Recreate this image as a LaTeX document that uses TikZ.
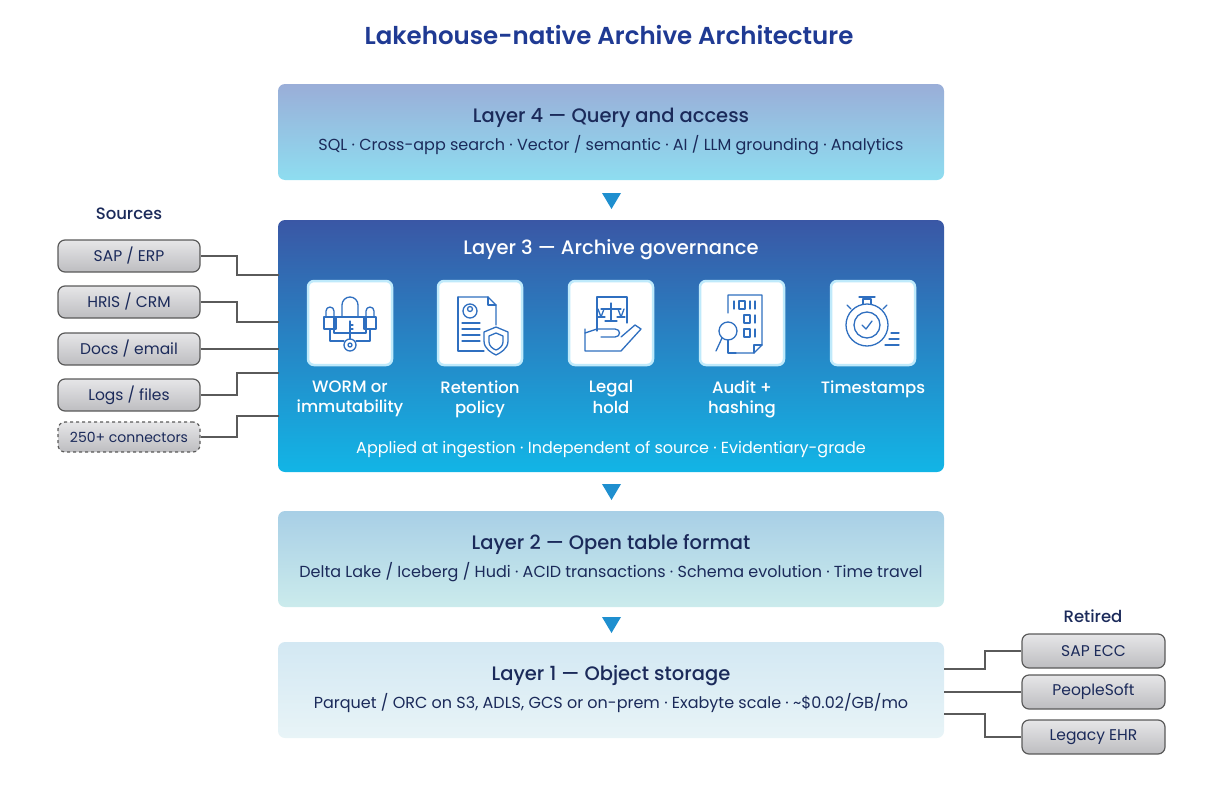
\documentclass[tikz,border=0pt]{standalone}
\usepackage{fontspec}
\setmainfont{Poppins}
\newfontfamily\semib{Poppins SemiBold}
\newfontfamily\med{Poppins Medium}
\definecolor{navy}{HTML}{1B2A5A}
\definecolor{ttl}{HTML}{1F3A93}
\definecolor{tri}{HTML}{1F8FCF}
\definecolor{icb}{HTML}{2F6FC0}
\definecolor{wire}{HTML}{5A5A5A}
\definecolor{lfA}{HTML}{9AAED8}\definecolor{lfB}{HTML}{8EDDF0}
\definecolor{ltA}{HTML}{3A57A5}\definecolor{ltB}{HTML}{12B5E6}
\definecolor{ltwA}{HTML}{A8CFE6}\definecolor{ltwB}{HTML}{CBEBEC}
\definecolor{lonA}{HTML}{D3E8F3}\definecolor{lonB}{HTML}{E8F4F7}
\definecolor{srcA}{HTML}{E6E6E8}\definecolor{srcB}{HTML}{BDBDC0}
\tikzset{
  ltitle/.style={font=\med\fontsize{19.5}{22}\selectfont,text=navy},
  lsub/.style={font=\fontsize{16}{19}\selectfont,text=navy},
  srcbox/.style={draw=wire,line width=1.2pt,rounded corners=7pt,top color=srcA,bottom color=srcB,minimum width=142pt,minimum height=32pt,font=\fontsize{15.5}{18}\selectfont,text=navy},
  iconbox/.style={fill=white,draw=cyan!25,line width=2.5pt,rounded corners=6pt,minimum width=84pt,minimum height=84pt},
  icl/.style={font=\med\fontsize{16.5}{20.5}\selectfont,text=white,align=center,anchor=north},
  wireln/.style={draw=wire,line width=1.2pt},
  ic/.style={draw=icb,line width=1.3pt,line cap=round,line join=round},
  hdr/.style={font=\med\fontsize{16.5}{19}\selectfont,text=navy}
}
\begin{document}
\begin{tikzpicture}[x=1pt,y=-1pt]
\useasboundingbox (0,0) rectangle (1218,792);
\node[text=ttl,font=\semib\fontsize{24.5}{28}\selectfont] (title) at (609,35) {Lakehouse-native Archive Architecture};
% layers
\shade[rounded corners=7pt,top color=lfA,bottom color=lfB] (278,84) rectangle (944,180);
\shade[rounded corners=7pt,top color=ltA,bottom color=ltB] (278,220) rectangle (944,472);
\shade[rounded corners=7pt,top color=ltwA,bottom color=ltwB] (278,511) rectangle (944,607);
\shade[rounded corners=7pt,top color=lonA,bottom color=lonB] (278,642) rectangle (944,738);
\node[ltitle] (t4) at (611,118) {Layer 4 — Query and access};
\node[lsub] (s4) at (611,145) {SQL · Cross-app search · Vector / semantic · AI / LLM grounding · Analytics};
\node[ltitle,text=white] (t3) at (611,250) {Layer 3 — Archive governance};
\node[lsub,text=white] (s3) at (611,450) {Applied at ingestion · Independent of source · Evidentiary-grade};
\node[ltitle] (t2) at (611,545) {Layer 2 — Open table format};
\node[lsub] (s2) at (611,572) {Delta Lake / Iceberg / Hudi · ACID transactions · Schema evolution · Time travel};
\node[ltitle] (t1) at (611,676) {Layer 1 — Object storage};
\node[lsub] (s1) at (611,703) {Parquet / ORC on S3, ADLS, GCS or on-prem · Exabyte scale · \textasciitilde\$0.02/GB/mo};
% triangles
\foreach \y in {193,484,617}{\fill[tri] (602,\y) -- (621,\y) -- (611.5,\y+16) -- cycle;}
% icons
\foreach \x/\n/\l in {350/i1/{WORM or\\immutability},480/i2/{Retention\\policy},611/i3/{Legal\\hold},742/i4/{Audit +\\hashing},873/i5/{Timestamps}}{
  \node[iconbox] (\n) at (\x,323) {};
  \node[icl] at (\x,377) {\l};
}
% icon 1: locks and key
\begin{scope}[shift={(350,323)}]
\draw[ic] (-8,-6) -- (-8,-18) arc[start angle=180,end angle=360,radius=8] -- (8,-6);
\draw[ic] (-16,-6) rectangle (16,10);
\draw[ic] (-26,-6) rectangle (-14,6); \draw[ic] (-24,-6) -- (-24,-12) arc[start angle=180,end angle=360,radius=4] -- (-16,-6);
\draw[ic] (14,-6) rectangle (26,6); \draw[ic] (16,-6) -- (16,-12) arc[start angle=180,end angle=360,radius=4] -- (24,-6);
\draw[ic] (0,-2) -- (0,16); \draw[ic] (0,2) -- (3,2); \draw[ic] (0,6) -- (3,6);
\draw[ic] (0,22) circle (6); \draw[ic] (0,22) circle (2);
\draw[ic] (-20,6) -- (-20,18) -- (-6,18); \draw[ic] (20,6) -- (20,18) -- (6,18);
\end{scope}
% icon 2: document with shield
\begin{scope}[shift={(480,323)}]
\draw[ic] (-22,-26) -- (8,-26) -- (16,-18) -- (16,2); \draw[ic] (-22,-26) -- (-22,28) -- (4,28);
\draw[ic] (8,-26) -- (8,-18) -- (16,-18);
\draw[ic] (-10,-12) circle (7); \draw[ic] (-10,-14) circle (2.5);
\draw[ic] (-18,0) -- (0,0); \draw[ic] (-18,6) -- (0,6); \draw[ic] (-18,12) -- (0,12); \draw[ic] (-18,18) -- (0,18);
\draw[ic] (16,4) -- (28,9) -- (28,18) .. controls (28,26) and (20,30) .. (16,32) .. controls (12,30) and (4,26) .. (4,18) -- (4,9) -- cycle;
\draw[ic] (16,10) -- (23,13) -- (23,19) .. controls (23,23) and (19,26) .. (16,27) .. controls (13,26) and (9,23) .. (9,19) -- (9,13) -- cycle;
\end{scope}
% icon 3: legal hold
\begin{scope}[shift={(611,323)}]
\draw[ic] (-14,8) -- (-14,-26) -- (16,-26) -- (16,0);
\draw[ic] (0,-20) -- (0,-2); \draw[ic] (-10,-14) -- (10,-14); \draw[ic] (-6,-2) -- (6,-2);
\draw[ic] (-13,-14) -- (-10,-6) -- (-7,-14); \draw[ic] (7,-14) -- (10,-6) -- (13,-14); \draw[ic] (-14,-6) -- (-6,-6); \draw[ic] (6,-6) -- (14,-6);
\draw[ic] (-26,6) -- (-26,28) -- (10,28) -- (30,6) -- (24,2) -- (10,14);
\draw[ic] (-26,10) -- (-14,6) -- (4,6) .. controls (10,6) and (10,14) .. (4,14) -- (-10,14);
\end{scope}
% icon 4: audit
\begin{scope}[shift={(742,323)}]
\draw[ic] (-14,-10) -- (-14,-28) -- (20,-28) -- (20,22) -- (12,30) -- (-6,30); \draw[ic] (-14,17) -- (-14,30) -- (-6,30);
\draw[ic] (12,30) -- (12,22) -- (20,22);
\draw[ic] (-8,-22) -- (-8,-14); \draw[ic] (-3,-22) rectangle (3,-14); \draw[ic] (8,-22) -- (8,-14); \draw[ic] (13,-22) -- (13,-14);
\draw[ic] (2,-8) rectangle (8,0); \draw[ic] (13,-8) -- (13,0);
\draw[ic] (2,6) rectangle (8,14); \draw[ic] (13,6) -- (13,14);
\draw[ic] (-14,8) circle (9); \draw[ic] (-20,15) -- (-26,28);
\end{scope}
% icon 5: stopwatch
\begin{scope}[shift={(873,323)}]
\draw[ic] (-6,2) circle (21); \draw[ic] (-6,2) circle (13);
\draw[ic] (-11,2) -- (-7,6) -- (-1,-2);
\draw[ic] (-10,-19) -- (-10,-24) -- (-2,-24) -- (-2,-19); \draw[ic] (-14,-26) -- (2,-26);
\draw[ic] (-22,-14) -- (-26,-18); \draw[ic] (10,-14) -- (14,-18);
\draw[ic] (18,10) -- (26,10); \draw[ic] (16,16) -- (26,16); \draw[ic] (12,22) -- (26,22);
\end{scope}
% sources
\node[hdr] (srch) at (129,214) {Sources};
\node[srcbox] (sap) at (129,256) {SAP / ERP};
\node[srcbox] (hris) at (129,302) {HRIS / CRM};
\node[srcbox] (docs) at (129,349) {Docs / email};
\node[srcbox] (logs) at (129,395) {Logs / files};
\node[srcbox,dashed,minimum height=30pt,font=\fontsize{14}{16}\selectfont] (conn) at (129,437) {250+ connectors};
\coordinate (a1) at (279,275); \coordinate (a2) at (279,322); \coordinate (a3) at (279,349); \coordinate (a4) at (279,373); \coordinate (a5) at (279,416);
\draw[wireln] (sap.east) -- (237,256) |- (a1);
\draw[wireln] (hris.east) -- (237,302) |- (a2);
\draw[wireln] (docs.east) -- (a3);
\draw[wireln] (logs.east) -- (237,395) |- (a4);
\draw[wireln] (conn.east) -- (237,437) |- (a5);
% retired
\node[hdr] (reth) at (1093,616) {Retired};
\node[srcbox,minimum width=143pt,minimum height=34pt] (ecc) at (1093.5,651) {SAP ECC};
\node[srcbox,minimum width=143pt,minimum height=34pt] (ps) at (1093.5,692) {PeopleSoft};
\node[srcbox,minimum width=143pt,minimum height=34pt] (ehr) at (1093.5,737) {Legacy EHR};
\coordinate (b1) at (944,669); \coordinate (b2) at (944,692); \coordinate (b3) at (944,714);
\draw[wireln] (b1) -- (985,669) |- (ecc.west);
\draw[wireln] (b2) -- (ps.west);
\draw[wireln] (b3) -- (985,714) |- (ehr.west);
\end{tikzpicture}
\end{document}
